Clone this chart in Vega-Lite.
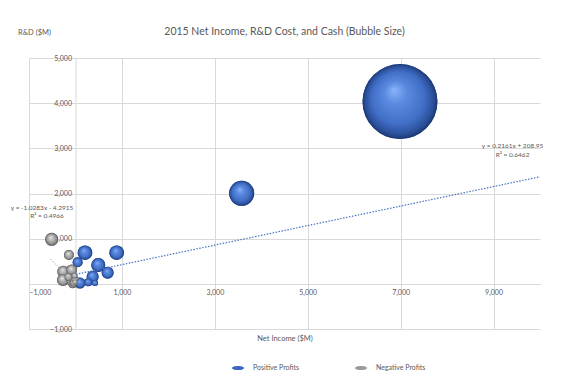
{
  "$schema": "https://vega.github.io/schema/vega-lite/v6.json",
  "autosize": "none",
  "width": 511,
  "height": 271,
  "padding": {"left": 29, "top": 58, "right": 28, "bottom": 47},
  "background": "white",
  "title": {"text": "2015 Net Income, R&D Cost, and Cash (Bubble Size)", "font": "Lato", "fontSize": 10.5, "fontWeight": "normal", "color": "#595959", "anchor": "middle", "offset": -9},
  "config": {
    "view": {"stroke": null},
    "axis": {"labelFont": "Lato", "labelFontSize": 7, "labelColor": "#595959", "gridColor": "#d9d9d9", "domainColor": "#d9d9d9", "ticks": false, "titleFont": "Lato", "titleFontWeight": "normal", "titleColor": "#595959", "titleFontSize": 7.5},
    "legend": {"labelFont": "Lato", "labelFontSize": 7, "labelColor": "#595959"}
  },
  "datasets": {
    "bubbles": [
      {"ni": 6986, "rd": 4036, "cash": 30900, "group": "Positive Profits"},
      {"ni": 3578, "rd": 2004, "cash": 3440, "group": "Positive Profits"},
      {"ni": 205, "rd": 689, "cash": 1172, "group": "Positive Profits"},
      {"ni": 887, "rd": 689, "cash": 1172, "group": "Positive Profits"},
      {"ni": 491, "rd": 416, "cash": 1078, "group": "Positive Profits"},
      {"ni": 693, "rd": 246, "cash": 792, "group": "Positive Profits"},
      {"ni": 370, "rd": 157, "cash": 792, "group": "Positive Profits"},
      {"ni": 97, "rd": 18, "cash": 666, "group": "Positive Profits"},
      {"ni": 47, "rd": 476, "cash": 550, "group": "Positive Profits"},
      {"ni": 276, "rd": 33, "cash": 352, "group": "Positive Profits"},
      {"ni": 420, "rd": 18, "cash": 198, "group": "Positive Profits"},
      {"ni": -512, "rd": 985, "cash": 930, "group": "Negative Profits"},
      {"ni": -263, "rd": 268, "cash": 792, "group": "Negative Profits"},
      {"ni": -269, "rd": 84, "cash": 792, "group": "Negative Profits"},
      {"ni": -82, "rd": 306, "cash": 666, "group": "Negative Profits"},
      {"ni": -75, "rd": 62, "cash": 666, "group": "Negative Profits"},
      {"ni": -140, "rd": 638, "cash": 550, "group": "Negative Profits"},
      {"ni": -150, "rd": 150, "cash": 352, "group": "Negative Profits"},
      {"ni": -60, "rd": -10, "cash": 352, "group": "Negative Profits"},
      {"ni": -40, "rd": 20, "cash": 270, "group": "Negative Profits"},
      {"ni": -10, "rd": 106, "cash": 270, "group": "Negative Profits"},
      {"ni": -20, "rd": 180, "cash": 198, "group": "Negative Profits"},
      {"ni": -10, "rd": 40, "cash": 138, "group": "Negative Profits"}
    ],
    "trend": [
      {"series": "pos", "ni": 10, "rd": 211},
      {"series": "pos", "ni": 10000, "rd": 2370},
      {"series": "neg", "ni": -540, "rd": 551},
      {"series": "neg", "ni": 0, "rd": -4}
    ],
    "labels": [
      {"ni": 9409, "rd": 3057, "label": "y = 0.2161x + 208.95"},
      {"ni": 9409, "rd": 2851, "label": "R² = 0.6462"},
      {"ni": -720, "rd": 1671, "label": "y = -1.0283x - 4.2915"},
      {"ni": -612, "rd": 1501, "label": "R² = 0.4966"}
    ]
  },
  "encoding": {
    "x": {"field": "ni", "type": "quantitative", "scale": {"domain": [-1000, 10000], "nice": false, "zero": false},
      "axis": {"values": [-1000, 1000, 3000, 5000, 7000, 9000], "format": ",.0f", "offset": -45, "labelPadding": 4, "title": "Net Income ($M)", "titleY": 54, "titleBaseline": "middle"}},
    "y": {"field": "rd", "type": "quantitative", "scale": {"domain": [-1000, 5000], "nice": false, "zero": false},
      "axis": {"values": [-1000, 0, 1000, 2000, 3000, 4000, 5000], "format": ",.0f", "offset": -46.5, "labelPadding": 4, "title": "R&D ($M)", "titleAngle": 0, "titleAlign": "left", "titleBaseline": "middle", "titleX": -58, "titleY": -26}}
  },
  "layer": [
    {
      "data": {"name": "bubbles"},
      "mark": {"type": "circle", "opacity": 1},
      "encoding": {
        "size": {"field": "cash", "type": "quantitative", "scale": {"domain": [0, 31000], "range": [0, 5636]}, "legend": null},
        "color": {"field": "group", "type": "nominal", "scale": {"domain": ["Positive Profits", "Negative Profits"], "range": ["#3b66c0", "#9a9a9a"]},
          "legend": {"title": null, "orient": "none", "legendX": 203, "legendY": 304, "direction": "horizontal", "columns": 2, "columnPadding": 56, "symbolType": "M-1,0A1,0.35,0,1,1,1,0A1,0.35,0,1,1,-1,0Z", "symbolSize": 144, "symbolStrokeWidth": 0, "labelOffset": 9}}
      }
    },
    {
      "data": {"name": "bubbles"},
      "transform": [{"filter": "datum.group === 'Positive Profits'"}],
      "mark": {"type": "circle", "opacity": 1, "fill": {"gradient": "radial", "x1": 0.42, "y1": 0.34, "r1": 0, "x2": 0.5, "y2": 0.5, "r2": 0.5, "stops": [{"offset": 0, "color": "#8ab3f8"}, {"offset": 0.3, "color": "#5a8ae0"}, {"offset": 0.7, "color": "#416ec6"}, {"offset": 0.9, "color": "#2c519c"}, {"offset": 1, "color": "#1c3770"}]}},
      "encoding": {"size": {"field": "cash", "type": "quantitative", "scale": {"domain": [0, 31000], "range": [0, 5636]}, "legend": null}}
    },
    {
      "data": {"name": "bubbles"},
      "transform": [{"filter": "datum.group === 'Negative Profits'"}],
      "mark": {"type": "circle", "opacity": 1, "fill": {"gradient": "radial", "x1": 0.42, "y1": 0.34, "r1": 0, "x2": 0.5, "y2": 0.5, "r2": 0.5, "stops": [{"offset": 0, "color": "#eeeeee"}, {"offset": 0.3, "color": "#c2c2c2"}, {"offset": 0.7, "color": "#999999"}, {"offset": 0.9, "color": "#737373"}, {"offset": 1, "color": "#4f4f4f"}]}},
      "encoding": {"size": {"field": "cash", "type": "quantitative", "scale": {"domain": [0, 31000], "range": [0, 5636]}, "legend": null}}
    },
    {
      "data": {"name": "trend"},
      "transform": [{"filter": "datum.series === 'pos'"}],
      "mark": {"type": "line", "stroke": "#4472c4", "strokeWidth": 1.2, "strokeDash": [1.5, 1.5]},
      "encoding": {}
    },
    {
      "data": {"name": "trend"},
      "transform": [{"filter": "datum.series === 'neg'"}],
      "mark": {"type": "line", "stroke": "#a6a6a6", "strokeWidth": 1, "strokeDash": [1.5, 1.5]},
      "encoding": {}
    },
    {
      "data": {"name": "labels"},
      "mark": {"type": "text", "font": "Lato", "fontSize": 6.5, "color": "#595959", "align": "center", "baseline": "middle"},
      "encoding": {"text": {"field": "label", "type": "nominal"}}
    }
  ]
}
